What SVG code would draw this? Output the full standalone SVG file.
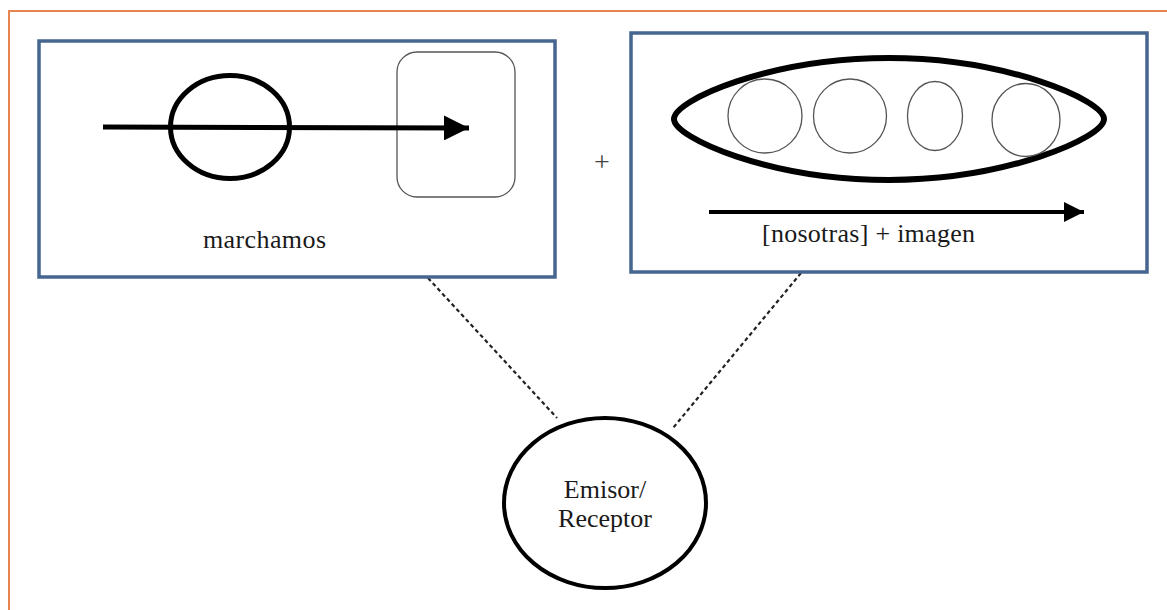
<svg xmlns="http://www.w3.org/2000/svg" width="1167" height="610" viewBox="0 0 1167 610">
<defs>
<style>
.frame{fill:none;stroke:#e8844f;stroke-width:2}
.box{fill:#fff;stroke:#46658f;stroke-width:3.5}
.thick{fill:none;stroke:#000;stroke-width:5}
.thin{fill:none;stroke:#555;stroke-width:1.3}
.lbl{font-family:"Liberation Serif","Times New Roman",serif;font-size:26px;fill:#1a1a1a}
.plus{font-family:"Liberation Serif","Times New Roman",serif;font-size:28px;fill:#444}
.dash{fill:none;stroke:#222;stroke-width:2.2;stroke-dasharray:4 3}
</style>
<marker id="ah" viewBox="0 0 10 10" refX="10" refY="5" markerWidth="5" markerHeight="5" orient="auto" markerUnits="strokeWidth">
<path d="M0,0 L10,5 L0,10 Z" fill="#000"/>
</marker>
</defs>
<rect width="1167" height="610" fill="#fff"/>
<g id="frame">
<polyline class="frame" points="9,610 9,11 1167,11"/>
</g>
<g id="connectors">
<line class="dash" x1="428" y1="278" x2="557" y2="418"/>
<line class="dash" x1="801" y1="273" x2="673" y2="428"/>
</g>
<g id="box-marchamos">
<rect class="box" x="39" y="41" width="516" height="236"/>
<rect class="thin" x="397" y="52" width="118" height="145" rx="20"/>
<ellipse class="thick" cx="230" cy="127" rx="59.5" ry="51.5"/>
<line x1="103" y1="127" x2="469" y2="128" stroke="#000" stroke-width="5" marker-end="url(#ah)"/>
<text class="lbl" x="203" y="248" textLength="123">marchamos</text>
</g>
<g id="plus">
<text class="plus" x="602" y="171" text-anchor="middle">+</text>
</g>
<g id="box-nosotras">
<rect class="box" x="631" y="33" width="516" height="239"/>
<path d="M674,119 C674,100 770,58 889,58 C1005,58 1104,100 1104,119 C1104,138 1005,180 889,180 C770,180 674,138 674,119 Z" fill="none" stroke="#000" stroke-width="6"/>
<ellipse class="thin" cx="765" cy="116" rx="37" ry="37"/>
<ellipse class="thin" cx="850" cy="116" rx="36.5" ry="37"/>
<ellipse class="thin" cx="935" cy="116" rx="27.5" ry="34.5"/>
<ellipse class="thin" cx="1026" cy="120" rx="34" ry="36.5"/>
<line x1="709" y1="212" x2="1084" y2="212" stroke="#000" stroke-width="4" marker-end="url(#ah)"/>
<text class="lbl" x="762" y="242" textLength="213">[nosotras] + imagen</text>
</g>
<g id="emisor">
<ellipse cx="605" cy="503" rx="101" ry="85" fill="#fff" stroke="#000" stroke-width="4"/>
<text class="lbl" x="605" y="498" text-anchor="middle">Emisor/</text>
<text class="lbl" x="605" y="527" text-anchor="middle">Receptor</text>
</g>
</svg>
